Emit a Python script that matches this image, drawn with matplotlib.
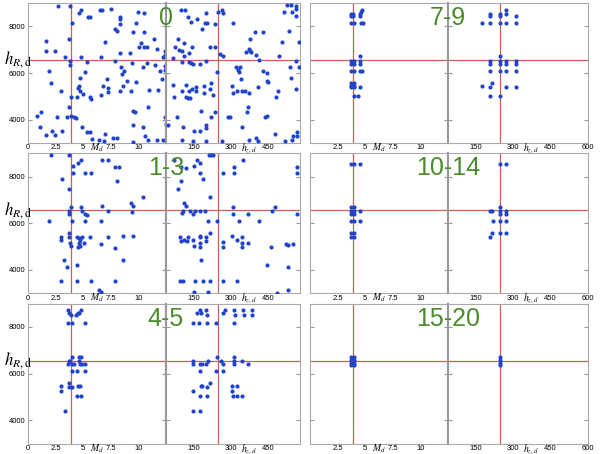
import numpy as np
import matplotlib
matplotlib.use("Agg")
import matplotlib.pyplot as plt
from matplotlib.transforms import offset_copy

plt.rcParams["font.family"] = ["Liberation Sans", "DejaVu Sans"]
plt.rcParams["mathtext.fontset"] = "stix"

# thresholds (red lines)
md_cut = 3.9
hz_cut = 246
hr_cut = 6560

# panel labels (number of ...), left column then right column
labels_left = ["0", "1-3", "4-5"]
labels_right = ["7-9", "10-14", "15-20"]

# ---- group "0" ----
g0_md = [(2.72, 8890), (3.81, 8890), (4.83, 8700), (4.65, 8560), (6.5, 8700), (6.71, 8700), (7.55, 8730),
         (9.97, 8630), (10.51, 8590), (8.31, 8410), (8.37, 8310), (5.44, 8410), (5.65, 8410), (4.02, 8130),
         (8.34, 8090), (9.76, 8160), (7.85, 7870), (8.1, 7800), (9.52, 7760), (10.54, 7760), (6.95, 7340),
         (11.42, 7440), (10.27, 7270), (1.6, 7360), (3.69, 7440), (10.06, 7100), (10.48, 7100), (10.82, 7100),
         (11.72, 7030), (12.45, 6940), (1.6, 6960), (2.48, 6960), (8.34, 6840), (9.24, 6840), (12.39, 6770),
         (3.38, 6700), (4.77, 6700), (6.65, 6700), (12.24, 6700), (3.84, 6510), (3.78, 6340), (5.32, 6460),
         (7.89, 6510), (9.43, 6440), (10.82, 6410), (11.48, 6340), (10.45, 6270), (12.39, 6310), (8.43, 6270),
         (1.93, 6080), (5.14, 6060), (8.7, 6080), (8.52, 5960), (12.39, 6130), (12.0, 6100), (4.68, 5770),
         (12.17, 5730), (2.11, 5580), (7.13, 5730), (6.8, 5440), (8.94, 5640), (9.76, 5630), (4.62, 5460),
         (8.61, 5460), (4.5, 5340), (4.74, 5230), (2.96, 5240), (7.25, 5370), (7.25, 5170), (5.02, 5110),
         (6.62, 5060), (8.31, 5230), (9.3, 5230), (11.0, 5260), (11.78, 5270), (3.87, 4980), (4.44, 4980),
         (5.65, 4960), (5.68, 4900), (3.69, 4560), (10.85, 4560), (9.52, 4380), (9.73, 4310), (1.21, 4340),
         (0.85, 4140), (2.63, 4100), (3.53, 4130), (3.93, 4160), (4.14, 4100), (4.38, 4060), (12.39, 4100),
         (1.06, 3670), (4.89, 3700), (9.55, 3770), (10.42, 3700), (12.48, 3810), (2.2, 3530), (3.05, 3510),
         (5.38, 3470), (5.65, 3470), (6.95, 3380), (1.63, 3340), (2.48, 3340), (10.6, 3300), (7.73, 3230),
         (8.04, 3230), (6.4, 3130), (6.86, 3100), (5.83, 3160), (9.49, 3060), (11.66, 3130), (12.24, 3130),
         (10.88, 3130)]
g0_hz = [(98, 8700), (114, 8700), (127, 8410), (138, 8170), (162, 8310), (199, 8560), (195, 8130), (205, 8160),
         (237, 8090), (185, 7870), (247, 8630), (265, 8700), (267, 8560), (309, 8130), (394, 7760), (429, 7760),
         (374, 7440), (358, 6890), (371, 7030), (375, 6960), (378, 6910), (398, 6770), (413, 6560), (491, 6730),
         (503, 7340), (530, 7800), (573, 7340), (525, 8910), (538, 8910), (559, 8890), (559, 8730), (511, 8600),
         (543, 8630), (561, 8440), (89, 7440), (74, 7130), (110, 7300), (91, 6990), (102, 6960), (142, 7100),
         (131, 6870), (113, 6730), (215, 7100), (234, 7130), (254, 6800), (269, 6730), (103, 6460), (130, 6490),
         (138, 6410), (149, 6380), (174, 6380), (201, 6530), (67, 6630), (318, 6270), (335, 6270), (327, 6130),
         (331, 6060), (427, 6080), (445, 5990), (537, 6270), (559, 6510), (571, 6270), (538, 5770), (338, 5730),
         (442, 5660), (447, 5610), (242, 6060), (69, 5480), (119, 5480), (105, 5240), (131, 5240), (143, 5300),
         (159, 5380), (159, 5240), (191, 5440), (218, 5580), (215, 5300), (191, 5130), (227, 5060), (121, 4980),
         (129, 4910), (135, 4940), (71, 4980), (302, 5440), (307, 5130), (325, 5240), (345, 5230), (355, 5230),
         (371, 5130), (407, 5410), (481, 4980), (487, 5240), (558, 5330), (367, 4560), (362, 4340), (442, 4170),
         (434, 4100), (181, 4380), (235, 4340), (82, 4100), (218, 4100), (287, 4130), (295, 4100), (47, 3770),
         (106, 3700), (198, 3770), (199, 3660), (151, 3510), (175, 3510), (343, 3680), (475, 3380), (562, 3460),
         (546, 3310), (565, 3300), (102, 3130), (149, 3100), (201, 3100), (265, 3100), (371, 3130), (398, 3230),
         (409, 3080), (517, 3100), (542, 3130)]

# ---- group "1-3" ----
g13_md = [(2.08, 8930), (3.75, 8930), (3.08, 7890), (4.05, 8460), (4.05, 8140), (3.69, 7460), (4.56, 8570),
          (4.8, 8710), (5.17, 8140), (5.68, 8140), (6.71, 8710), (7.22, 8710), (7.85, 8430), (8.28, 8430),
          (8.1, 7810), (10.39, 7140), (9.34, 6860), (9.49, 6740), (9.46, 6470), (7.22, 6540), (6.68, 6740),
          (4.8, 6710), (3.9, 6710), (3.72, 6540), (3.75, 6400), (4.89, 6540), (5.17, 6400), (5.38, 6360),
          (4.02, 6080), (1.93, 6110), (5.17, 6080), (6.65, 6100), (2.99, 5400), (2.99, 5280), (3.72, 5600),
          (3.72, 5400), (3.78, 5170), (3.93, 5030), (4.41, 5400), (4.59, 5360), (4.68, 5280), (4.65, 5170),
          (4.86, 5400), (4.53, 5000), (4.74, 5030), (5.05, 5140), (5.62, 5400), (6.65, 5110), (7.25, 5400),
          (7.85, 4960), (8.58, 5460), (9.49, 5460), (8.58, 4430), (3.29, 4430), (3.5, 4140), (4.41, 4210),
          (3.02, 3530), (4.47, 3530), (5.68, 3530), (7.85, 3530), (6.44, 3140), (6.62, 3060)]
g13_hz = [(73, 8710), (99, 8430), (89, 7460), (99, 7810), (121, 8360), (151, 8460), (162, 8710), (174, 8570),
          (175, 8140), (189, 7890), (211, 8930), (221, 8930), (227, 8930), (215, 7140), (111, 6860), (121, 6740),
          (107, 6540), (103, 6460), (137, 6540), (154, 6540), (174, 6540), (149, 6400), (194, 6540), (206, 6080),
          (245, 6080), (94, 5400), (101, 5260), (110, 5280), (122, 5260), (149, 5280), (153, 5030), (127, 5400),
          (174, 5460), (175, 5400), (177, 5140), (174, 4970), (199, 5400), (201, 5260), (214, 5600), (181, 4430),
          (95, 3530), (106, 3530), (154, 3530), (189, 3530), (215, 3530), (153, 3060), (207, 3060), (266, 8140),
          (310, 8430), (310, 8140), (346, 8710), (307, 6710), (307, 6400), (330, 6100), (369, 6400), (411, 6100),
          (474, 6710), (462, 6540), (562, 8430), (562, 8140), (563, 6400), (269, 5210), (269, 5000), (302, 5460),
          (322, 5280), (345, 5400), (345, 5140), (345, 5000), (369, 5170), (442, 4210), (526, 4140), (526, 5070),
          (518, 5100), (546, 5100), (458, 5000), (529, 3140), (482, 3030), (269, 3530), (323, 3530)]

# ---- group "4-5" ----
g45_md = [(3.66, 8730), (3.75, 8610), (3.9, 8510), (3.63, 8160), (4.02, 8160), (4.35, 8510), (4.53, 8590),
          (4.65, 8610), (4.83, 8730), (5.17, 8160), (3.99, 6730), (3.69, 6560), (3.84, 6560), (3.63, 6410),
          (3.99, 6410), (4.17, 6410), (4.59, 6730), (4.77, 6730), (4.59, 6560), (4.71, 6410), (4.89, 6410),
          (5.17, 6410), (3.99, 6110), (4.47, 6110), (5.17, 6110), (3.75, 5610), (3.96, 5410), (3.69, 5410),
          (4.5, 5470), (4.74, 5470), (2.96, 5470), (2.99, 5270), (4.41, 5040), (4.8, 5040), (3.35, 4410)]
g45_hz = [(149, 8160), (170, 8160), (202, 8160), (239, 8160), (165, 8590), (175, 8730), (181, 8590), (201, 8730),
          (205, 8510), (267, 8590), (275, 8730), (310, 8730), (314, 8510), (310, 8160), (347, 8730), (351, 8510),
          (383, 8730), (383, 8510), (147, 6560), (149, 6410), (175, 6410), (183, 6410), (206, 6560), (201, 6410),
          (239, 6110), (242, 6730), (261, 6560), (267, 6410), (269, 6110), (310, 6730), (310, 6560), (310, 6410),
          (343, 6560), (369, 6410), (174, 6110), (178, 5470), (185, 5470), (202, 5410), (214, 5610), (149, 5270),
          (175, 5040), (205, 5040), (146, 4410), (174, 4410), (302, 5470), (322, 5470), (302, 5270), (307, 5040),
          (322, 5040), (343, 5040)]

# ---- group "7-9" ----
g79_md = [(3.73, 8530), (3.92, 8530), (3.73, 8440), (3.92, 8440), (3.73, 8130), (3.98, 8130), (4.49, 8530),
          (4.49, 8440), (4.73, 8700), (4.58, 8630), (4.58, 8130), (4.79, 8130), (3.73, 6530), (3.98, 6530),
          (3.73, 6380), (3.98, 6380), (4.52, 6730), (4.52, 6530), (4.52, 6380), (3.73, 6080), (3.98, 6080),
          (4.52, 6080), (4.67, 6080), (3.73, 5580), (3.98, 5580), (3.73, 5440), (3.98, 5440), (3.73, 5380),
          (3.98, 5380), (4.52, 5380), (3.98, 5010), (4.37, 5010)]
g79_hz = [(177, 8130), (206, 8130), (207, 8530), (207, 8440), (246, 8530), (246, 8440), (246, 8130), (271, 8700),
          (271, 8530), (271, 8130), (310, 8440), (310, 8130), (206, 6530), (206, 6380), (206, 6080), (246, 6730),
          (246, 6530), (246, 6380), (246, 6080), (271, 6530), (271, 6380), (271, 6080), (310, 6530), (310, 6380),
          (310, 6080), (177, 5440), (217, 5580), (206, 5380), (271, 5380), (310, 5380), (206, 5010), (246, 5010)]

# ---- group "10-14" ----
g1014_md = [(3.73, 8540), (3.98, 8540), (4.52, 8540), (3.73, 6710), (3.98, 6710), (3.73, 6540), (3.98, 6540),
            (4.52, 6540), (3.73, 6400), (3.98, 6400), (3.73, 6100), (3.98, 6100), (4.52, 6100), (3.73, 5600),
            (3.98, 5600), (3.73, 5400), (3.98, 5400)]
g1014_hz = [(246, 8540), (271, 8540), (206, 6540), (217, 6540), (246, 6710), (246, 6540), (246, 6400), (271, 6540),
            (271, 6400), (219, 6100), (246, 6100), (271, 6100), (217, 5600), (246, 5600), (271, 5600), (206, 5400)]

# ---- group "15-20" ----
g1520_md = [(3.73, 6730), (3.98, 6730), (3.73, 6600), (3.98, 6600), (3.73, 6470), (3.98, 6470), (3.73, 6360),
            (3.98, 6360)]
g1520_hz = [(246, 6730), (246, 6600), (246, 6470), (246, 6360)]

left_md = [g0_md, g13_md, g45_md]
left_hz = [g0_hz, g13_hz, g45_hz]
right_md = [g79_md, g1014_md, g1520_md]
right_hz = [g79_hz, g1014_hz, g1520_hz]

blue = "#2244c8"
red = "#c2645a"
green = "#4a8c2c"
frame = "#aaaaaa"
divider = "#999999"

W, H = 600, 454
fig = plt.figure(figsize=(6, 4.54), dpi=100)


def box(x0, x1, y0, y1):
    return [x0 / W, (H - y1) / H, (x1 - x0) / W, (y1 - y0) / H]


def panel(x0, xm, x1, top, md, hz, label, hz_max, md_ticks, hz_ticks, first_col):
    bot = top + 140
    axl = fig.add_axes(box(x0, xm, top, bot))
    axr = fig.add_axes(box(xm, x1, top, bot))

    md = np.array(md)
    hz = np.array(hz)
    for ax, d, cut in [(axl, md, md_cut), (axr, hz, hz_cut)]:
        ax.axvline(cut, color=red, lw=0.9, zorder=1)
        ax.axhline(hr_cut, color=red, lw=0.9, zorder=1)
        ax.plot(d[:, 0], d[:, 1], "o", color=blue, ms=3.0, mew=0, zorder=3)
        ax.set_ylim(3000, 9000)
        ax.set_yticks([4000, 6000, 8000])
        ax.tick_params(axis="y", direction="in", length=3, color=divider, width=0.8,
                       left=True, right=True, labelleft=False, labelsize=5.5, pad=2)
        ax.tick_params(axis="x", length=0, pad=1, labelsize=5.5)
        for s in ax.spines.values():
            s.set_color(frame)
            s.set_linewidth(0.8)

    axl.set_xlim(0, 12.5)
    axr.set_xlim(40, hz_max)
    axl.set_xticks(md_ticks)
    axl.set_xticklabels([("%g" % t) for t in md_ticks])
    axr.set_xticks(hz_ticks)
    axr.set_xticklabels([("%g" % t) for t in hz_ticks])
    axl.spines["right"].set_color(divider)
    axl.spines["right"].set_linewidth(1.5)
    axr.spines["left"].set_color(divider)
    axr.spines["left"].set_linewidth(1.5)
    if first_col:
        axl.tick_params(axis="y", labelleft=True)
        fig.text(4 / W, (H - (top + 57)) / H, r"$h_{R,\mathrm{d}}$", fontsize=12,
                 ha="left", va="center")

    # axis names sit among the tick labels
    tl = offset_copy(axl.get_xaxis_transform(), fig=fig, y=-7.5, units="dots")
    axl.text(6.2, 0, r"$M_d$", transform=tl, ha="center", va="baseline", fontsize=7)
    tr = offset_copy(axr.get_xaxis_transform(), fig=fig, y=-7.5, units="dots")
    axr.text(372, 0, r"$h_{z,d}$", transform=tr, ha="center", va="baseline", fontsize=7)

    fig.text(xm / W, (H - (top + 22)) / H, label, color=green, fontsize=18,
             ha="center", va="baseline", zorder=10)


row_tops = [3, 153.3, 303.6]

for i in range(3):
    panel(28, 166, 300, row_tops[i], left_md[i], left_hz[i], labels_left[i], 576,
          [0, 2.5, 5, 7.5, 10], [150, 300, 450], True)
    panel(310, 448, 588, row_tops[i], right_md[i], right_hz[i], labels_right[i], 600,
          [2.5, 5, 7.5, 10], [150, 300, 450, 600], False)

fig.savefig("out.png", dpi=100)
